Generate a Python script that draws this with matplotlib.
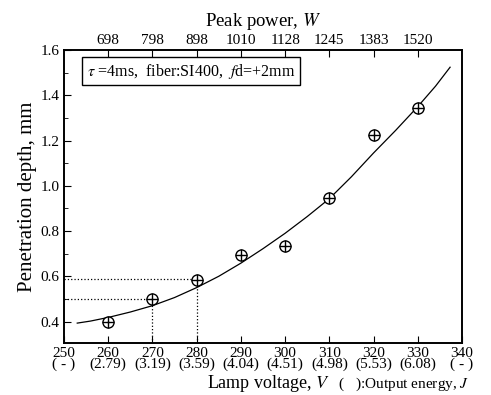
import numpy as np
import matplotlib.pyplot as plt
from matplotlib.ticker import MultipleLocator

plt.rcParams['font.family'] = ['Liberation Serif', 'DejaVu Serif']
plt.rcParams['mathtext.fontset'] = 'stix'

# Measured points
voltage = [260, 270, 280, 290, 300, 310, 320, 330]
depth = [0.40, 0.50, 0.585, 0.695, 0.735, 0.948, 1.225, 1.342]

# Fitted curve
curve_v = [253, 256, 260, 265, 270, 275, 280, 285, 290, 295, 300, 305, 310, 315, 320, 325, 330, 334, 337.3]
curve_d = [0.393, 0.402, 0.418, 0.442, 0.470, 0.506, 0.550, 0.600, 0.658, 0.722, 0.790, 0.864, 0.943, 1.040, 1.145, 1.245, 1.350, 1.440, 1.524]

# Tick labels
bottom_ticks = [250, 260, 270, 280, 290, 300, 310, 320, 330, 340]
energy = ['-', '2.79', '3.19', '3.59', '4.04', '4.51', '4.98', '5.53', '6.08', '-']
top_ticks = [260, 270, 280, 290, 300, 310, 320, 330]
peak_power = ['698', '798', '898', '1010', '1128', '1245', '1383', '1520']

fig = plt.figure(figsize=(4.91, 3.95), dpi=100)
ax = fig.add_axes([0.1303, 0.1316, 0.8107, 0.7418])

ax.plot(curve_v, curve_d, color='black', lw=0.9)
ax.plot(voltage, depth, 'o', mfc='white', mec='black', ms=8, mew=1.0, zorder=3)
ax.plot(voltage, depth, '+', color='black', ms=8, mew=1.0, zorder=4)

# dotted guide lines
ax.plot([250, 270], [0.5, 0.5], ':', color='black', lw=0.9)
ax.plot([270, 270], [0.305, 0.5], ':', color='black', lw=0.9)
ax.plot([250, 280], [0.59, 0.59], ':', color='black', lw=0.9)
ax.plot([280, 280], [0.305, 0.59], ':', color='black', lw=0.9)

ax.set_xlim(250, 340)
ax.set_ylim(0.305, 1.6)
ax.set_xticks(bottom_ticks)
ax.set_xticklabels(['%d\n(%s)' % (v, e) if e != '-' else '%d\n( - )' % v
                    for v, e in zip(bottom_ticks, energy)], linespacing=0.75)
ax.set_yticks([0.4, 0.6, 0.8, 1.0, 1.2, 1.4, 1.6])
ax.set_yticklabels(['0.4', '0.6', '0.8', '1.0', '1.2', '1.4', '1.6'])
ax.yaxis.set_minor_locator(MultipleLocator(0.1))
ax.tick_params(axis='both', which='both', direction='in', labelsize=11, pad=3)
ax.tick_params(axis='x', length=5)
ax.tick_params(axis='y', which='major', length=5)
ax.tick_params(axis='y', which='minor', length=3)
for s in ax.spines.values():
    s.set_linewidth(1.2)

ax.set_ylabel('Penetration depth, mm', fontsize=15, labelpad=3)
ax.text(0.668, -0.102, 'Lamp voltage, $V$', transform=ax.transAxes, fontsize=13,
        ha='right', va='top')
ax.text(0.68, -0.112, ' (   ):Output energy, $J$', transform=ax.transAxes, fontsize=11,
        ha='left', va='top')

ax2 = ax.twiny()
ax2.set_xlim(250, 340)
ax2.set_xticks(top_ticks)
ax2.set_xticklabels(peak_power)
ax2.tick_params(axis='x', direction='in', length=5, labelsize=11, pad=2)
ax2.set_xlabel('Peak power, $W$', fontsize=13.5, labelpad=6)
for s in ax2.spines.values():
    s.set_linewidth(1.2)

ax.text(0.058, 0.928, r'$\tau$ =4ms,  fiber:SI400,  $f$d=+2mm', transform=ax.transAxes,
        fontsize=11.5, ha='left', va='center',
        bbox=dict(boxstyle='square,pad=0.3', fc='white', ec='black', lw=1.0))

fig.savefig('out.png', dpi=100)
